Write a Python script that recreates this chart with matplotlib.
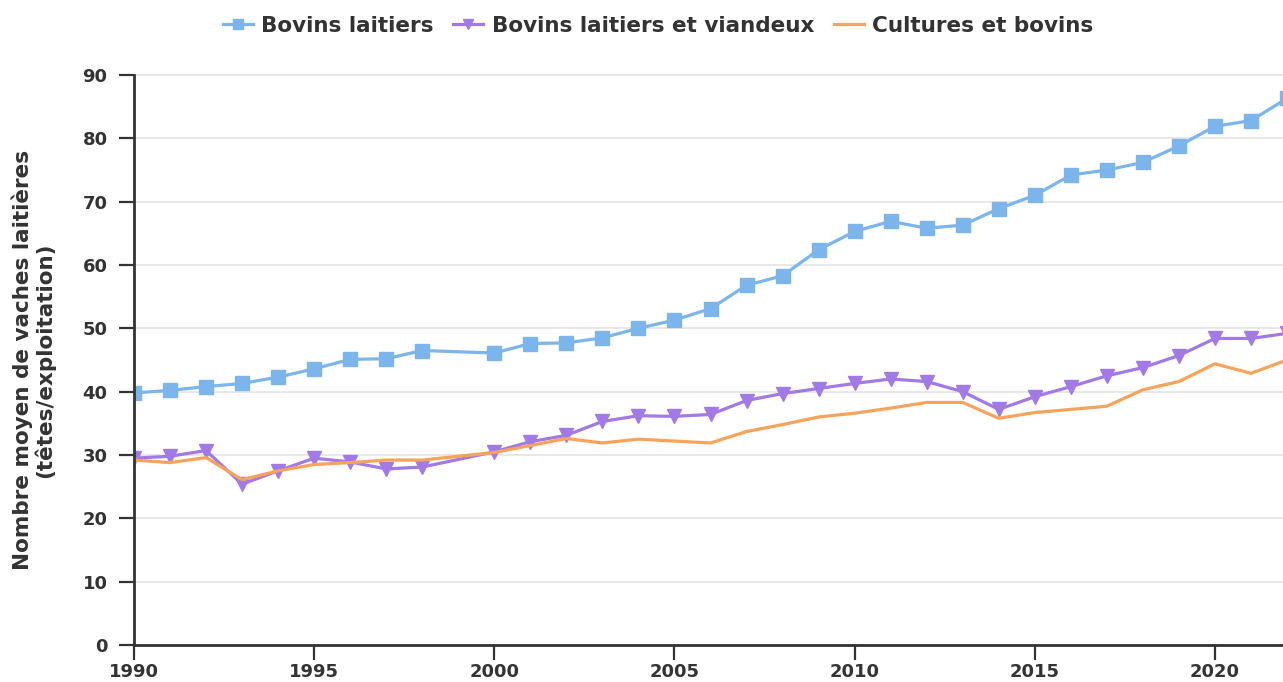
import matplotlib.pyplot as plt

years = [1990, 1991, 1992, 1993, 1994, 1995, 1996, 1997, 1998, 2000, 2001,
         2002, 2003, 2004, 2005, 2006, 2007, 2008, 2009, 2010, 2011, 2012,
         2013, 2014, 2015, 2016, 2017, 2018, 2019, 2020, 2021, 2022]

bovins_laitiers = [39.8, 40.2, 40.8, 41.3, 42.3, 43.6, 45.1, 45.2, 46.5, 46.1, 47.6,
                   47.7, 48.5, 50.0, 51.3, 53.1, 56.8, 58.3, 62.4, 65.3, 66.9, 65.8,
                   66.3, 68.9, 71.0, 74.2, 75.0, 76.2, 78.8, 81.9, 82.8, 86.3]

bovins_mixtes = [29.5, 29.8, 30.7, 25.4, 27.5, 29.5, 28.9, 27.8, 28.1, 30.5, 32.1,
                 33.1, 35.3, 36.2, 36.1, 36.4, 38.6, 39.7, 40.5, 41.3, 42.0, 41.6,
                 40.0, 37.2, 39.2, 40.8, 42.5, 43.8, 45.7, 48.4, 48.4, 49.2]

cultures_bovins = [29.2, 28.8, 29.6, 26.1, 27.5, 28.5, 28.8, 29.2, 29.2, 30.4, 31.5,
                   32.6, 31.9, 32.5, 32.2, 31.9, 33.7, 34.8, 36.0, 36.6, 37.4, 38.3,
                   38.3, 35.8, 36.7, 37.2, 37.7, 40.3, 41.6, 44.4, 42.9, 45.0]

fig = plt.figure(figsize=(12.83, 6.82), dpi=100)
ax = fig.add_axes([134 / 1283, 37 / 682, (1287 - 134) / 1283, (645 - 75) / 682])

ax.plot(years, bovins_laitiers, color='#7cb5ec', lw=2.3, marker='s', ms=10.5,
        label='Bovins laitiers')
ax.plot(years, bovins_mixtes, color='#a27ae8', lw=2.3, marker='v', ms=10,
        label='Bovins laitiers et viandeux')
ax.plot(years, cultures_bovins, color='#f7a35c', lw=2.3,
        label='Cultures et bovins')

ax.set_xlim(1990, 2022)
ax.set_ylim(0, 90)
ax.set_yticks(range(0, 91, 10))
ax.set_xticks(range(1990, 2021, 5))
ax.grid(axis='y', color='#e6e6e6', lw=1.3)
ax.set_axisbelow(True)
for gl in ax.get_ygridlines():
    gl.set_clip_on(False)

for s in ['top', 'right']:
    ax.spines[s].set_visible(False)
for s in ['left', 'bottom']:
    ax.spines[s].set_color('#333333')
    ax.spines[s].set_linewidth(2)

ax.tick_params(axis='both', length=11, width=1.6, color='#333333',
               labelsize=13, labelcolor='#333333')
ax.tick_params(axis='y', pad=8)
ax.tick_params(axis='x', pad=2)
for lab in ax.get_xticklabels() + ax.get_yticklabels():
    lab.set_fontweight('bold')

ax.set_ylabel('Nombre moyen de vaches laitières\n(têtes/exploitation)',
              fontsize=15.5, fontweight='bold', color='#333333', linespacing=1.05)
ax.yaxis.set_label_coords(-0.068, 0.5)

fig.legend(loc='upper center', bbox_to_anchor=(0.513, 1.005), ncol=3, frameon=False,
           prop={'size': 15.5, 'weight': 'bold'}, handlelength=1.4, markerscale=0.75,
           columnspacing=0.9, handletextpad=0.4, labelcolor='#333333')

fig.savefig('out.png', dpi=100)
